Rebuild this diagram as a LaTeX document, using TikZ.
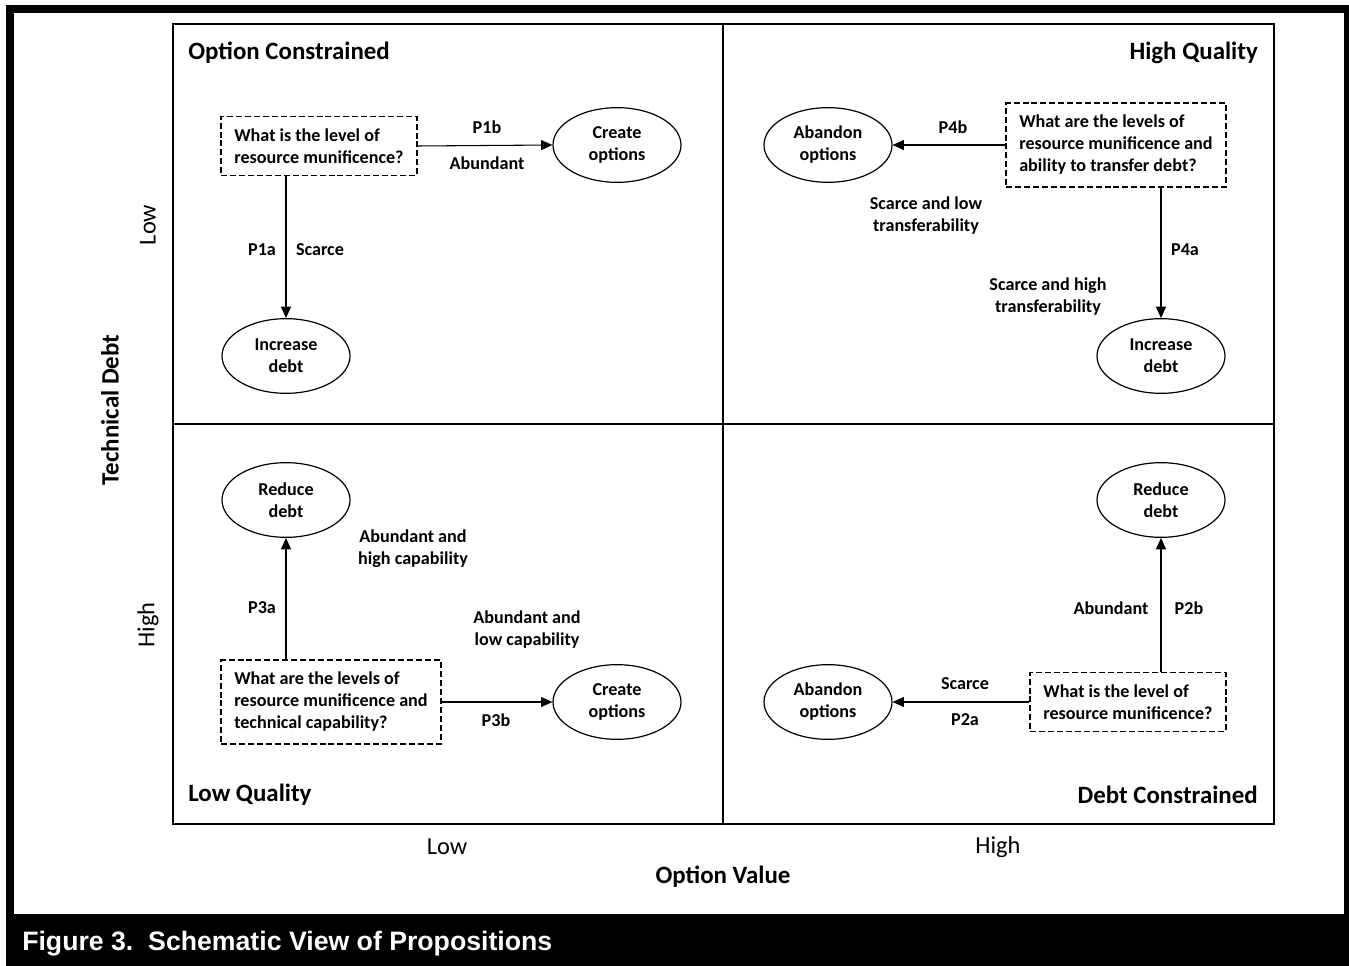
\documentclass[tikz,border=0pt]{standalone}
\usepackage{fontspec}
\setmainfont{Carlito}
\newfontfamily\capfont{Liberation Sans}
\usetikzlibrary{arrows.meta,shapes.geometric}

\begin{document}
\begin{tikzpicture}[x=0.75pt,y=-0.75pt,
    lbl/.style={font=\fontsize{13.6}{16.5}\selectfont\bfseries, align=center, inner sep=0pt},
    qbox/.style={draw, line width=1.3pt, dash pattern=on 4.5pt off 2.2pt, align=left,
      inner xsep=9.75pt, inner ysep=9pt, font=\fontsize{13.6}{16.5}\selectfont\bfseries},
    act/.style={draw, ellipse, line width=0.9pt, minimum width=96pt, minimum height=56pt,
      inner sep=0pt, align=center, font=\fontsize{13.6}{16.5}\selectfont\bfseries},
    link/.style={-{Triangle[length=8.5pt,width=7.5pt]}, line width=0.8pt},
    quadtitle/.style={font=\fontsize{18.7}{22}\selectfont\bfseries, inner sep=0pt},
    axislbl/.style={font=\fontsize{18.3}{22}\selectfont, inner sep=0pt}]
    %%%%% FRAME %%%%%
    \useasboundingbox (0,0) rectangle (1349,966);
    \fill[black] (6,5) rectangle (1349,966);
    \fill[white] (14,13) rectangle (1344,914);
    \node[anchor=west, text=white, inner sep=0pt, font=\capfont\fontsize{20}{24}\selectfont\bfseries]
      (caption) at (22,944) {Figure 3.\ \ Schematic View of Propositions};

    %%%%% QUADRANTS %%%%%
    \draw[line width=1pt] (173,24) rectangle (1274,824);
    \draw[line width=1pt] (723,24) -- (723,824);
    \draw[line width=1pt] (173,424) -- (1274,424);

    \node[quadtitle, anchor=west] (titleoc) at (188,53) {Option Constrained};
    \node[quadtitle, anchor=east] (titlehq) at (1258,53) {High Quality};
    \node[quadtitle, anchor=west] (titlelq) at (188,795) {Low Quality};
    \node[quadtitle, anchor=east] (titledc) at (1258,795) {Debt Constrained};

    %%%%% AXES %%%%%
    \node[axislbl, rotate=90] (ylow) at (148,225) {Low};
    \node[axislbl, rotate=90] (yhigh) at (148,625) {High};
    \node[quadtitle, rotate=90] (yaxis) at (110,410) {Technical Debt};
    \node[axislbl] (xlow) at (447,847) {Low};
    \node[axislbl] (xhigh) at (998,847) {High};
    \node[quadtitle] (xaxis) at (723,877) {Option Value};

    %%%%% OPTION CONSTRAINED %%%%%
    \node[qbox] (q1box) at (319,146) {What is the level of\\resource munificence?};
    \node[act] (q1create) at (617,145) {Create\\options};
    \node[act] (q1incr) at (286,356) {Increase\\debt};
    \draw[link] (q1box.east) -- (q1create.west);
    \draw[link] (q1box.south -| q1incr) -- (q1incr.north);
    \node[lbl] (p1b) at (487,127) {P1b};
    \node[lbl] (q1abund) at (487,163) {Abundant};
    \node[lbl] (p1a) at (262,250) {P1a};
    \node[lbl] (q1scarce) at (320,250) {Scarce};

    %%%%% HIGH QUALITY %%%%%
    \node[qbox] (q2box) at (1116,145) {What are the levels of\\resource munificence and\\ability to transfer debt?};
    \node[act] (q2aband) at (828,145) {Abandon\\options};
    \node[act] (q2incr) at (1161,356) {Increase\\debt};
    \draw[link] (q2box.west) -- (q2aband.east);
    \draw[link] (q2box.south -| q2incr) -- (q2incr.north);
    \node[lbl] (p4b) at (953,127) {P4b};
    \node[lbl] (q2low) at (926,216) {Scarce and low\\transferability};
    \node[lbl] (p4a) at (1185,250) {P4a};
    \node[lbl] (q2high) at (1048,297) {Scarce and high\\transferability};

    %%%%% LOW QUALITY %%%%%
    \node[qbox] (q3box) at (331,702) {What are the levels of\\resource munificence and\\technical capability?};
    \node[act] (q3reduce) at (286,500) {Reduce\\debt};
    \node[act] (q3create) at (617,702) {Create\\options};
    \draw[link] (q3box.north -| q3reduce) -- (q3reduce.south);
    \draw[link] (q3box.east) -- (q3create.west);
    \node[lbl] (q3high) at (413,549) {Abundant and\\high capability};
    \node[lbl] (p3a) at (262,608) {P3a};
    \node[lbl] (q3low) at (527,630) {Abundant and\\low capability};
    \node[lbl] (p3b) at (496,720) {P3b};

    %%%%% DEBT CONSTRAINED %%%%%
    \node[qbox] (q4box) at (1128,702) {What is the level of\\resource munificence?};
    \node[act] (q4reduce) at (1161,500) {Reduce\\debt};
    \node[act] (q4aband) at (828,702) {Abandon\\options};
    \draw[link] (q4box.north -| q4reduce) -- (q4reduce.south);
    \draw[link] (q4box.west) -- (q4aband.east);
    \node[lbl] (q4abund) at (1111,608) {Abundant};
    \node[lbl] (p2b) at (1189,608) {P2b};
    \node[lbl] (q4scarce) at (965,684) {Scarce};
    \node[lbl] (p2a) at (965,720) {P2a};
\end{tikzpicture}
\end{document}
